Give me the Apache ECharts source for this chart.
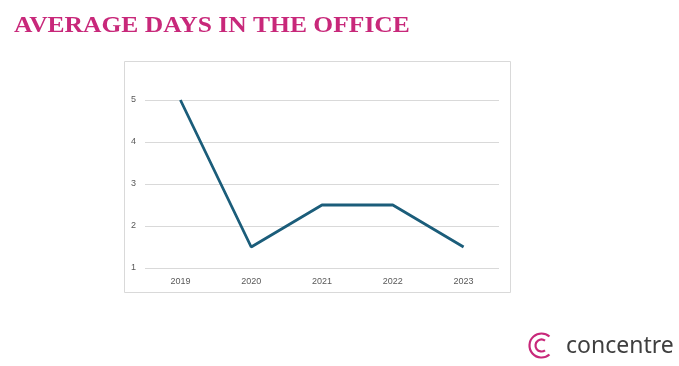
<!DOCTYPE html>
<html><head><meta charset="utf-8">
<script src="https://cdn.jsdelivr.net/npm/echarts@6/dist/echarts.min.js"></script>
<style>html,body{margin:0;padding:0;background:#fff}#c{width:679px;height:366px}</style>
</head><body><div id="c"></div>
<script>
const categories = ['2019','2020','2021','2022','2023'];
const avgDays = [5, 1.5, 2.5, 2.5, 1.5];
const yTicks = [1, 2, 3, 4, 5];
const titleText = 'AVERAGE DAYS IN THE OFFICE';
const brandText = 'concentre';

const chart = echarts.init(document.getElementById('c'), null, {renderer:'canvas'});
chart.setOption({
  backgroundColor:'#ffffff',
  animation:false,
  grid:{left:145,right:180,top:100,bottom:98},
  xAxis:{type:'category',data:categories,boundaryGap:true,
    axisLine:{show:false},axisTick:{show:false},
    axisLabel:{color:'#595959',fontSize:9,fontFamily:'Liberation Sans',margin:9}},
  yAxis:{type:'value',min:yTicks[0],max:yTicks[yTicks.length-1],interval:1,
    axisLine:{show:false},axisTick:{show:false},
    axisLabel:{color:'#595959',fontSize:9,fontFamily:'Liberation Sans',margin:9},
    splitLine:{lineStyle:{color:'#d9d9d9',width:1}}},
  series:[{type:'line',data:avgDays,symbol:'none',lineStyle:{color:'#1b5d7a',width:2.8}}],
  graphic:[
    {type:'text',x:14,y:26,scaleX:1.11,style:{text:titleText,fontFamily:'Liberation Serif',fontSize:23,fontWeight:'bold',fill:'#c8287a',verticalAlign:'middle',align:'left'}},
    {type:'rect',shape:{x:124.5,y:61.5,width:386,height:231},style:{fill:'none',stroke:'#d9d9d9',lineWidth:1},z:-1},
    {type:'arc',shape:{cx:541.5,cy:345.5,r:12,startAngle:Math.PI*0.27,endAngle:Math.PI*1.73,clockwise:true},style:{fill:'none',stroke:'#c8287a',lineWidth:2.2}},
    {type:'arc',shape:{cx:541.5,cy:345.5,r:6,startAngle:Math.PI*0.3,endAngle:Math.PI*1.7,clockwise:true},style:{fill:'none',stroke:'#c8287a',lineWidth:2.2}},
    {type:'text',x:566,y:346,style:{text:brandText,fontFamily:'Noto Sans',fontSize:23,fill:'#3f3f3f',verticalAlign:'middle'}}
  ]
});
</script></body></html>
